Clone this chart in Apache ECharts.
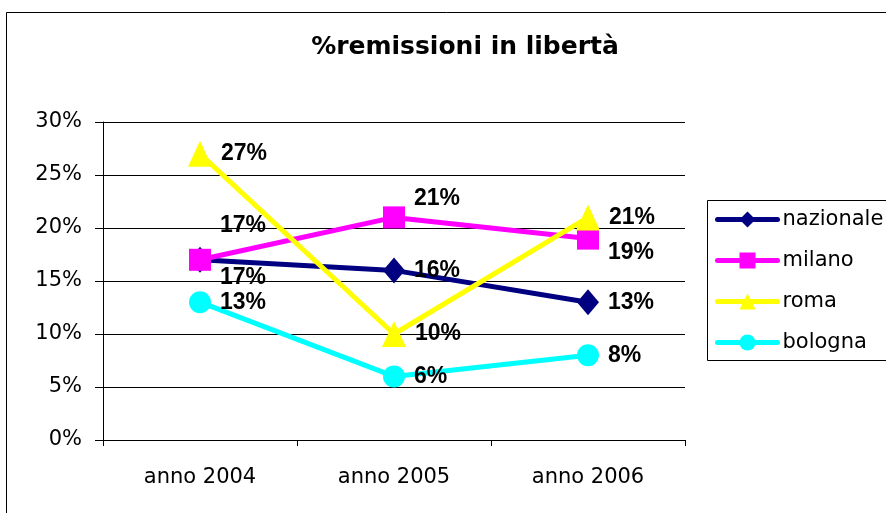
<!DOCTYPE html>
<html>
<head>
<meta charset="utf-8">
<script src="https://cdn.jsdelivr.net/npm/echarts@6/dist/echarts.min.js"></script>
<style>
  html, body { margin: 0; padding: 0; background: #fff; }
  #chart { width: 886px; height: 513px; }
</style>
</head>
<body>
<div id="chart"></div>
<script>
// dati
const categories = ['anno 2004', 'anno 2005', 'anno 2006']
const nazionale = [17, 16, 13]
const milano = [17, 21, 19]
const roma = [27, 10, 21]
const bologna = [13, 6, 8]
const yTicks = [0, 5, 10, 15, 20, 25, 30]

// spostamenti manuali delle etichette (come nell'originale)
const labelShift = {
  nazionale: [18, 0, 0],
  milano: [-34, -19, 14],
  roma: [0, 0, 0],
  bologna: [0, 0, 0]
}

const makeSeries = (name, values, color, symbol, symbolSize) => ({
  name: name,
  type: 'line',
  data: values.map((v, i) => ({
    value: v,
    label: { offset: [0, labelShift[name][i]] }
  })),
  color: color,
  symbol: symbol,
  symbolSize: symbolSize,
  showAllSymbol: true,
  lineStyle: { width: 5, color: color, join: 'round' },
  itemStyle: { color: color },
  label: {
    show: true,
    position: 'right',
    distance: 9,
    formatter: '{c}%',
    fontFamily: 'Liberation Sans',
    fontWeight: 'bold',
    fontSize: 23,
    color: '#000'
  },
  emphasis: { disabled: true },
  animation: false
})

const chart = echarts.init(document.getElementById('chart'))

const option = {
  backgroundColor: '#fff',
  animation: false,
  title: {
    text: '%remissioni in libertà',
    left: 460,
    top: 30,
    textAlign: 'center',
    textStyle: {
      fontFamily: 'DejaVu Sans',
      fontWeight: 'bold',
      fontSize: 25,
      color: '#000'
    }
  },
  legend: {
    orient: 'vertical',
    left: 710,
    top: 204,
    itemWidth: 60,
    itemHeight: 20,
    itemGap: 20,
    data: ['nazionale', 'milano', 'roma', 'bologna'],
    lineStyle: { width: 5, cap: 'round' },
    textStyle: {
      fontFamily: 'DejaVu Sans',
      fontSize: 21,
      lineHeight: 20,
      color: '#000'
    }
  },
  grid: {
    left: 103,
    right: 201,
    top: 122,
    bottom: 73
  },
  xAxis: {
    type: 'category',
    data: categories,
    axisLine: { lineStyle: { color: '#000', width: 1 } },
    axisTick: { show: true, length: 6, lineStyle: { color: '#000' } },
    axisLabel: {
      margin: 27,
      fontFamily: 'DejaVu Sans',
      fontSize: 21,
      color: '#000'
    }
  },
  yAxis: {
    type: 'value',
    min: yTicks[0],
    max: yTicks[yTicks.length - 1],
    interval: 5,
    axisLine: { show: true, lineStyle: { color: '#000', width: 1 } },
    axisTick: { show: true, length: 8, lineStyle: { color: '#000' } },
    splitLine: { show: true, lineStyle: { color: '#000', width: 1 } },
    axisLabel: {
      margin: 21,
      formatter: '{value}%',
      fontFamily: 'DejaVu Sans',
      fontSize: 21,
      color: '#000'
    }
  },
  graphic: [
    {
      type: 'rect',
      shape: { x: 6.5, y: 12.5, width: 1000, height: 1000 },
      style: { fill: 'none', stroke: '#000', lineWidth: 1 },
      silent: true,
      z: -1
    },
    {
      type: 'rect',
      shape: { x: 707.5, y: 200.5, width: 300, height: 160 },
      style: { fill: 'none', stroke: '#000', lineWidth: 1 },
      silent: true
    }
  ],
  series: [
    makeSeries('nazionale', nazionale, '#000080', 'diamond', [22, 26]),
    makeSeries('milano', milano, '#FF00FF', 'rect', 22),
    makeSeries('roma', roma, '#FFFF00', 'triangle', [24, 26]),
    makeSeries('bologna', bologna, '#00FFFF', 'circle', 22)
  ]
}

chart.setOption(option)
</script>
</body>
</html>
